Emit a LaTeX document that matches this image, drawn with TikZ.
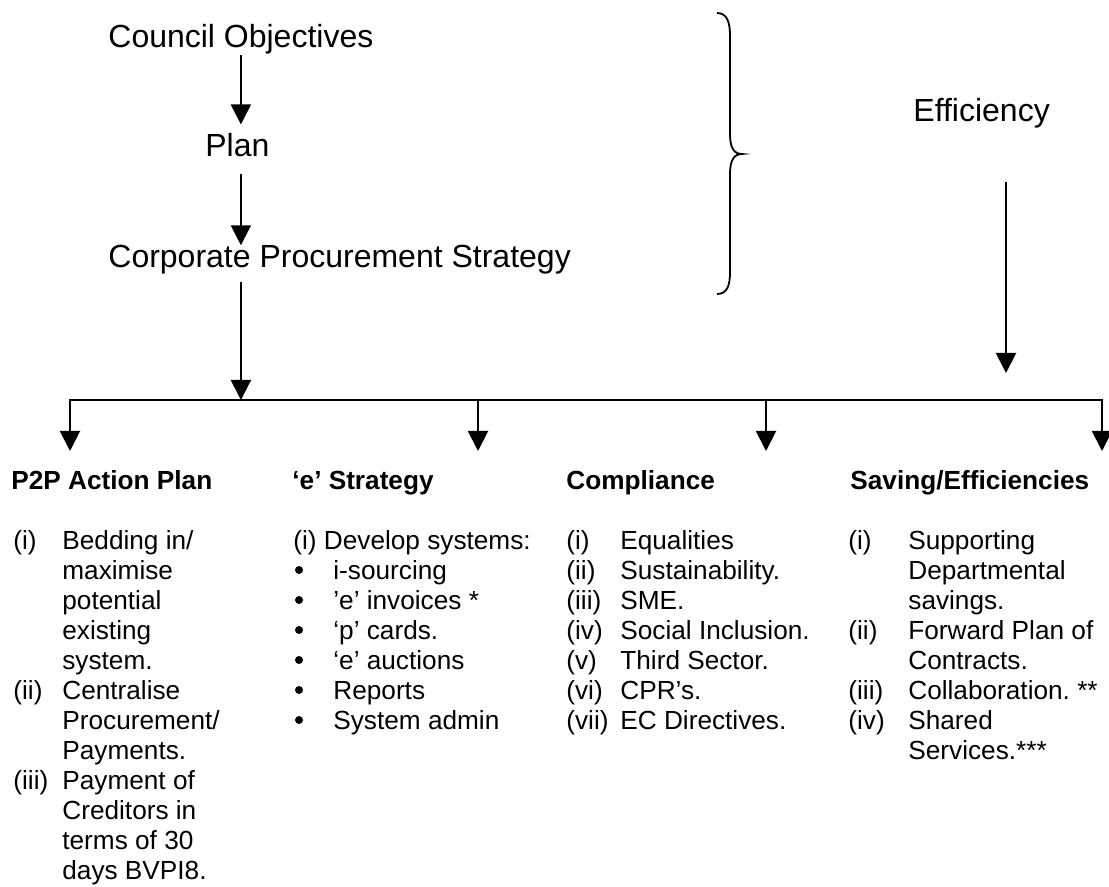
\documentclass[tikz,border=0pt]{standalone}
\usepackage{fontspec}
\setmainfont{Liberation Sans}
\usetikzlibrary{arrows.meta}
\frenchspacing

\tikzset{
  toptext/.style={inner sep=0pt,anchor=base west,font=\fontsize{16}{19}\selectfont},
  headtext/.style={inner sep=0pt,anchor=base west,font=\fontsize{13.1}{15}\selectfont\bfseries},
  listtext/.style={inner sep=0pt,anchor=base west,font=\fontsize{13.1}{15}\selectfont},
  flow/.style={line width=1pt,-{Triangle[width=10pt,length=10pt]}},
}

\begin{document}
\begin{tikzpicture}[x=0.5pt,y=-0.5pt]
  \useasboundingbox (0,0) rectangle (1109,887);
  % top chain
  \node[toptext] (co)   at (108,48)  {Council Objectives};
  \node[toptext] (plan) at (205,157) {Plan};
  \node[toptext] (cps)  at (108,268) {Corporate Procurement Strategy};
  \node[toptext] (eff)  at (913,122) {Efficiency};

  \draw[flow] (co.south) -- ([yshift=4.5pt]co.south |- plan.north);
  \draw[flow] ([yshift=-8pt]co.south |- plan.south) -- (co.south |- cps.north);
  \coordinate (bar) at (238,400);
  \draw[flow] ([yshift=-3.5pt]co.south |- cps.south) -- (co.south |- bar);

  % brace
  \draw[line width=0.9pt] (717,13) .. controls (727,13) and (730,22) .. (730,36)
    -- (730,134) .. controls (730,148) and (734,154) .. (742,154)
    .. controls (734,154) and (730,160) .. (730,174)
    -- (730,272) .. controls (730,286) and (727,294) .. (717,294);

  % efficiency arrow
  \coordinate (efftip) at (1006,373);
  \draw[flow] ([yshift=-26.5pt]efftip |- eff.south) -- (efftip);

  % distribution bar
  \foreach \x/\n in {70/1,478/2,766/3,1102/4}
    {
      \coordinate (d\n) at (\x,400);
      \coordinate (t\n) at (\x,451);
    }
  \draw[line width=1pt,line cap=rect] (d1) -- (d4);
  \foreach \n in {1,...,4}
    \draw[flow] (d\n) -- (t\n);

  % columns
  \node[headtext] (p2p)  at (11,490)  {P2P Action Plan};
  \node[headtext] (estr) at (292,490) {‘e’ Strategy};
  \node[headtext] (comp) at (566,490) {Compliance};
  \node[headtext] (save) at (850,490) {Saving/Efficiencies};

  \node[listtext] (p2plist) at (13,549.5) {\begin{tabular}[t]{@{}p{24.5pt}@{}l@{}}
    (i)   & Bedding in/\\
          & maximise\\
          & potential\\
          & existing\\
          & system.\\
    (ii)  & Centralise\\
          & Procurement/\\
          & Payments.\\
    (iii) & Payment of\\
          & Creditors in\\
          & terms of 30\\
          & days BVPI8.
  \end{tabular}};
  \node[listtext] (estrlist) at (293,549.5) {\begin{tabular}[t]{@{}p{20pt}@{}l@{}}
    \multicolumn{2}{@{}l@{}}{(i) Develop systems:}\\
    & i-sourcing\\
    & ’e’ invoices *\\
    & ‘p’ cards.\\
    & ‘e’ auctions\\
    & Reports\\
    & System admin
  \end{tabular}};
  \foreach \k in {1,...,6}
    \fill (299,540+30*\k) circle (4);
  \node[listtext] (complist) at (566,549.5) {\begin{tabular}[t]{@{}p{27pt}@{}l@{}}
    (i)   & Equalities\\
    (ii)  & Sustainability.\\
    (iii) & SME.\\
    (iv)  & Social Inclusion.\\
    (v)   & Third Sector.\\
    (vi)  & CPR’s.\\
    (vii) & EC Directives.
  \end{tabular}};
  \node[listtext] (savelist) at (848,549.5) {\begin{tabular}[t]{@{}p{30pt}@{}l@{}}
    (i)   & Supporting\\
          & Departmental\\
          & savings.\\
    (ii)  & Forward Plan of\\
          & Contracts.\\
    (iii) & Collaboration. **\\
    (iv)  & Shared\\
          & Services.***
  \end{tabular}};
\end{tikzpicture}
\end{document}
